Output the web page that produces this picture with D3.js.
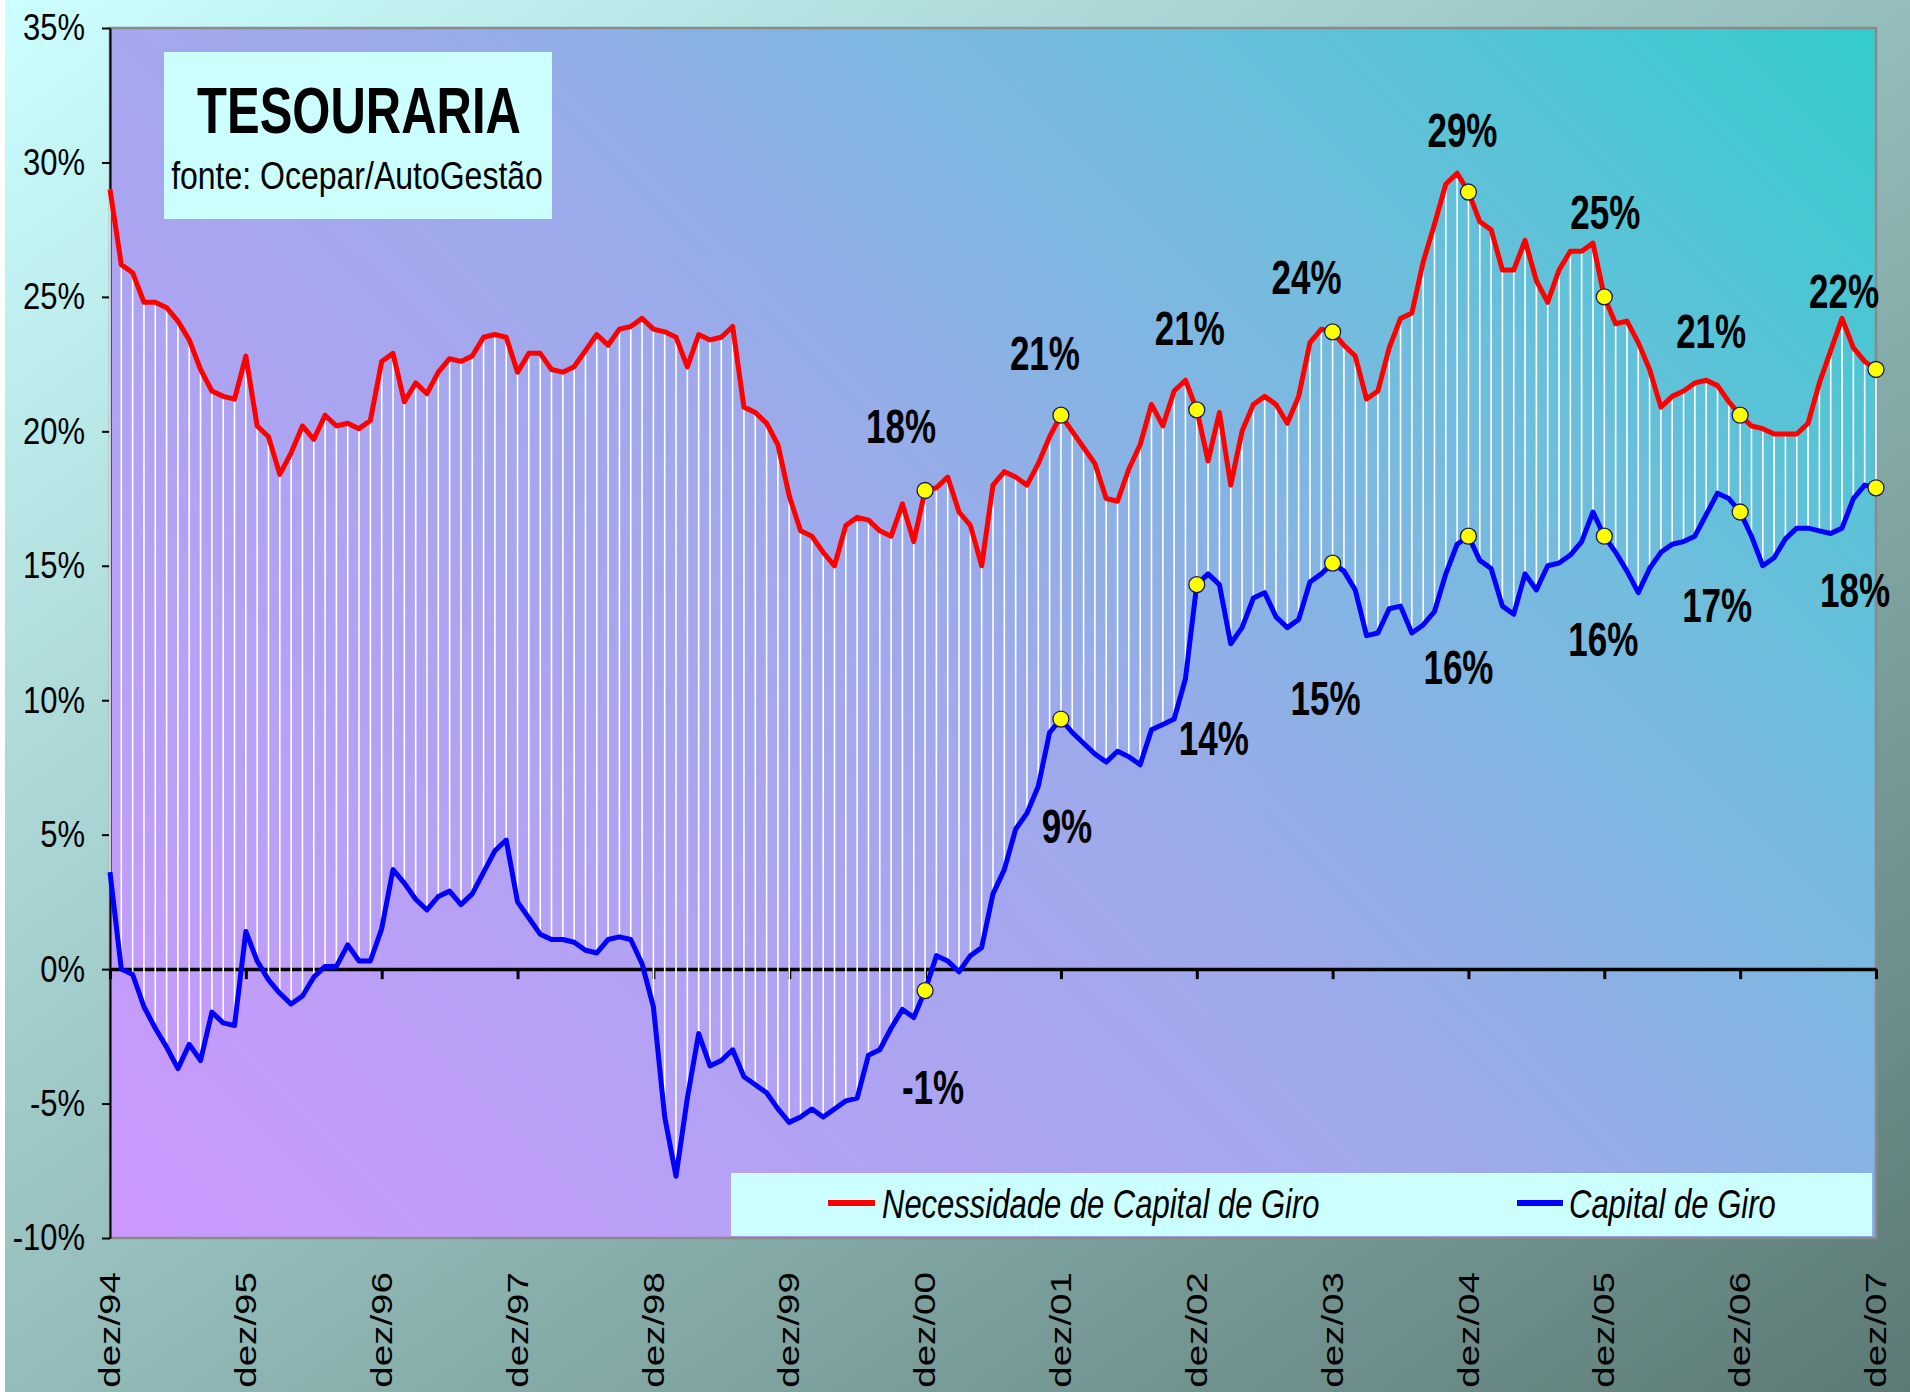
<!DOCTYPE html>
<html><head><meta charset="utf-8">
<script src="https://cdn.jsdelivr.net/npm/d3@7"></script>
<style>body{margin:0;overflow:hidden;background:#fff} svg{display:block}</style>
</head><body><svg id="c" width="1910" height="1392"></svg>
<script>
// ---------- DATA ----------
const monthNames = ["jan","fev","mar","abr","mai","jun","jul","ago","set","out","nov","dez"];
const tickLabels = ["dez/94","dez/95","dez/96","dez/97","dez/98","dez/99","dez/00","dez/01","dez/02","dez/03","dez/04","dez/05","dez/06","dez/07"];
const yTicks = [-10,-5,0,5,10,15,20,25,30,35];
const seriesNames = ["Necessidade de Capital de Giro","Capital de Giro"];

// Necessidade de Capital de Giro (%), monthly dez/94 .. dez/07
const ncg = [29.0,26.2,25.9,24.8,24.8,24.6,24.1,23.4,22.3,21.5,21.3,21.2,
 22.8,20.2,19.8,18.4,19.2,20.2,19.7,20.6,20.2,20.3,20.1,20.4,
 22.6,22.9,21.1,21.8,21.4,22.2,22.7,22.6,22.8,23.5,23.6,23.5,
 22.2,22.9,22.9,22.3,22.2,22.4,23.0,23.6,23.2,23.8,23.9,24.2,
 23.8,23.7,23.5,22.4,23.6,23.4,23.5,23.9,20.9,20.7,20.3,19.5,
 17.6,16.3,16.1,15.5,15.0,16.5,16.8,16.7,16.3,16.1,17.3,15.9,
 17.8,17.9,18.3,17.0,16.5,15.0,18.0,18.5,18.3,18.0,18.8,19.8,
 20.6,20.0,19.4,18.8,17.5,17.4,18.6,19.5,21.0,20.2,21.5,21.9,
 20.8,18.9,20.7,18.0,20.0,21.0,21.3,21.0,20.3,21.3,23.3,23.8,
 23.7,23.2,22.8,21.2,21.5,23.1,24.2,24.4,26.3,27.7,29.2,29.6,
 28.9,27.8,27.5,26.0,26.0,27.1,25.6,24.8,26.0,26.7,26.7,27.0,
 25.0,24.0,24.1,23.3,22.3,20.9,21.3,21.5,21.8,21.9,21.7,21.1,
 20.6,20.2,20.1,19.9,19.9,19.9,20.3,21.8,23.0,24.2,23.1,22.6,
 22.3];
// Capital de Giro (%), monthly dez/94 .. dez/07
const cg = [3.6,0.0,-0.2,-1.4,-2.2,-2.9,-3.7,-2.8,-3.4,-1.6,-2.0,-2.1,
 1.4,0.3,-0.4,-0.9,-1.3,-1.0,-0.3,0.1,0.1,0.9,0.3,0.3,
 1.5,3.7,3.2,2.6,2.2,2.7,2.9,2.4,2.8,3.6,4.4,4.8,
 2.5,1.9,1.3,1.1,1.1,1.0,0.7,0.6,1.1,1.2,1.1,0.2,
 -1.4,-5.5,-7.7,-4.8,-2.4,-3.6,-3.4,-3.0,-4.0,-4.3,-4.6,-5.2,
 -5.7,-5.5,-5.2,-5.5,-5.2,-4.9,-4.8,-3.2,-3.0,-2.2,-1.5,-1.8,
 -0.8,0.5,0.3,-0.1,0.5,0.8,2.8,3.7,5.2,5.8,6.8,8.8,
 9.3,8.8,8.4,8.0,7.7,8.1,7.9,7.6,8.9,9.1,9.3,10.8,
 14.3,14.7,14.3,12.1,12.7,13.8,14.0,13.1,12.7,13.0,14.4,14.7,
 15.1,14.8,14.1,12.4,12.5,13.4,13.5,12.5,12.8,13.3,14.7,15.8,
 16.1,15.2,14.9,13.5,13.2,14.7,14.1,15.0,15.1,15.4,15.9,17.0,
 16.1,15.5,14.8,14.0,14.9,15.5,15.8,15.9,16.1,16.9,17.7,17.5,
 17.0,16.1,15.0,15.3,16.0,16.4,16.4,16.3,16.2,16.4,17.5,18.0,
 17.9];
const markedCats = ["dez/00","dez/01","dez/02","dez/03","dez/04","dez/05","dez/06","dez/07"];
const ncgLabels = ["18%","21%","21%","24%","29%","25%","21%","22%"];
const cgLabels = ["-1%","9%","14%","15%","16%","16%","17%","18%"];
// label offsets from their marker (px)
const ncgLabelOffset = [[-24,-64],[-16,-62],[-7,-81],[-26,-54],[-6,-62],[1,-84],[-29,-84],[-32,-78]];
const cgLabelOffset = [[8,97],[6,107],[17,154],[-7,135],[-10,131],[-1,103],[-23,93],[-21,103]];

const months = d3.range(ncg.length).map(i => {
  const k = 11 + i;
  return monthNames[k % 12] + "/" + String((94 + Math.floor(k / 12)) % 100).padStart(2, "0");
});

// ---------- CHART ----------
const W = 1910, H = 1392;
const L = 110, R = 1876, T = 28, B = 1238;
const FONT = "'Liberation Sans', Arial, Helvetica, sans-serif";
const svg = d3.select("#c");
const defs = svg.append("defs");

const pg = defs.append("linearGradient").attr("id","pageG").attr("x1",0).attr("y1",0).attr("x2",1).attr("y2",1);
pg.append("stop").attr("offset","0%").attr("stop-color","#ccffff");
pg.append("stop").attr("offset","100%").attr("stop-color","#5c7a76");
const s = ((R - L) + (B - T)) / 2;
const pl = defs.append("linearGradient").attr("id","plotG").attr("gradientUnits","userSpaceOnUse")
  .attr("x1",L).attr("y1",B).attr("x2",L + s).attr("y2",B - s);
pl.append("stop").attr("offset","0%").attr("stop-color","#cc99ff");
pl.append("stop").attr("offset","50%").attr("stop-color","#9caaea");
pl.append("stop").attr("offset","75%").attr("stop-color","#6ebedc");
pl.append("stop").attr("offset","100%").attr("stop-color","#33cccc");

svg.append("rect").attr("width",W).attr("height",H).attr("fill","url(#pageG)");
svg.append("rect").attr("width",5).attr("height",H).attr("fill","#ffffff");

const x = d3.scalePoint().domain(months).range([L, R]);
const y = d3.scaleLinear().domain([-10, 35]).range([B, T]);

svg.append("rect").attr("x",L).attr("y",T).attr("width",R-L).attr("height",B-T)
  .attr("fill","url(#plotG)").attr("stroke","#8a8a8a").attr("stroke-width",2.5);

// y axis
const ya = svg.append("g").attr("transform",`translate(${L},0)`)
  .call(d3.axisLeft(y).tickValues(yTicks).tickFormat(d => d + "%").tickSize(8).tickSizeOuter(0).tickPadding(17));
ya.select(".domain").attr("stroke","#000").attr("stroke-width",2);
ya.selectAll(".tick line").attr("stroke","#000").attr("stroke-width",2);
ya.selectAll(".tick text").attr("font-family",FONT).attr("font-size",31).attr("fill","#000")
  .attr("transform","scale(1,1.2)");

// x axis at 0
const xa = svg.append("g").attr("transform",`translate(0,${y(0)})`)
  .call(d3.axisBottom(x).tickValues(tickLabels).tickFormat("").tickSize(10).tickSizeOuter(0));
xa.select(".domain").attr("stroke","#000").attr("stroke-width",3.5);
xa.selectAll(".tick line").attr("stroke","#000").attr("stroke-width",3);

// x labels
svg.append("g").selectAll("text").data(tickLabels).join("text")
  .attr("transform", d => `translate(${x(d)},1272) rotate(-90) scale(1.33,1)`)
  .attr("text-anchor","end").attr("dy","0.35em")
  .attr("font-family",FONT).attr("font-size",29).attr("fill","#000").text(d => d);

// hi-lo lines
svg.append("g").selectAll("line").data(months).join("line")
  .attr("x1", d => x(d)).attr("x2", d => x(d))
  .attr("y1", (d,i) => y(ncg[i])).attr("y2", (d,i) => y(cg[i]))
  .attr("stroke","#ffffff").attr("stroke-width",1.6);

// series lines
const line = arr => d3.line().x((d,i) => x(months[i])).y(d => y(d))(arr);
svg.append("path").attr("d", line(ncg)).attr("fill","none").attr("stroke","#ff0000")
  .attr("stroke-width",5).attr("stroke-linejoin","round");
svg.append("path").attr("d", line(cg)).attr("fill","none").attr("stroke","#0000ff")
  .attr("stroke-width",5).attr("stroke-linejoin","round");

// markers
const idx = c => months.indexOf(c);
[ncg, cg].forEach(arr => {
  svg.append("g").selectAll("circle").data(markedCats).join("circle")
    .attr("cx", d => x(d)).attr("cy", d => y(arr[idx(d)])).attr("r", 8)
    .attr("fill","#ffff00").attr("stroke","#1a1a55").attr("stroke-width",1.3);
});

// data labels
function labels(arr, texts, offs) {
  svg.append("g").selectAll("text").data(markedCats).join("text")
    .attr("transform", (d,i) => `translate(${x(d)+offs[i][0]},${y(arr[idx(d)])+offs[i][1]}) scale(1,1.35)`)
    .attr("text-anchor","middle").attr("dy","0.35em")
    .attr("font-family",FONT).attr("font-weight","bold").attr("font-size",35).attr("fill","#000")
    .text((d,i) => texts[i]);
}
labels(ncg, ncgLabels, ncgLabelOffset);
labels(cg, cgLabels, cgLabelOffset);

// title box
svg.append("rect").attr("x",164).attr("y",52).attr("width",388).attr("height",167).attr("fill","#ccffff");
svg.append("text").attr("transform","translate(359,110) scale(1,1.32)").attr("text-anchor","middle").attr("dy","0.36em")
  .attr("font-family",FONT).attr("font-weight","bold").attr("font-size",49).attr("fill","#000").text("TESOURARIA");
svg.append("text").attr("transform","translate(357,175) scale(1,1.22)").attr("text-anchor","middle").attr("dy","0.36em")
  .attr("font-family",FONT).attr("font-size",32).attr("fill","#000").text("fonte: Ocepar/AutoGestão");

// legend
svg.append("rect").attr("x",731).attr("y",1173).attr("width",1141).attr("height",63).attr("fill","#ccffff");
const leg = [
  {name: seriesNames[0], color:"#ff0000", x0:828, x1:875, tx:882},
  {name: seriesNames[1], color:"#0000ff", x0:1517, x1:1563, tx:1569}
];
leg.forEach(l => {
  svg.append("line").attr("x1",l.x0).attr("x2",l.x1).attr("y1",1203).attr("y2",1203)
    .attr("stroke",l.color).attr("stroke-width",6);
  svg.append("text").attr("transform",`translate(${l.tx},1203) scale(1,1.3)`).attr("dy","0.36em")
    .attr("font-family",FONT).attr("font-style","italic").attr("font-size",31).attr("fill","#000").text(l.name);
});
</script></body></html>
